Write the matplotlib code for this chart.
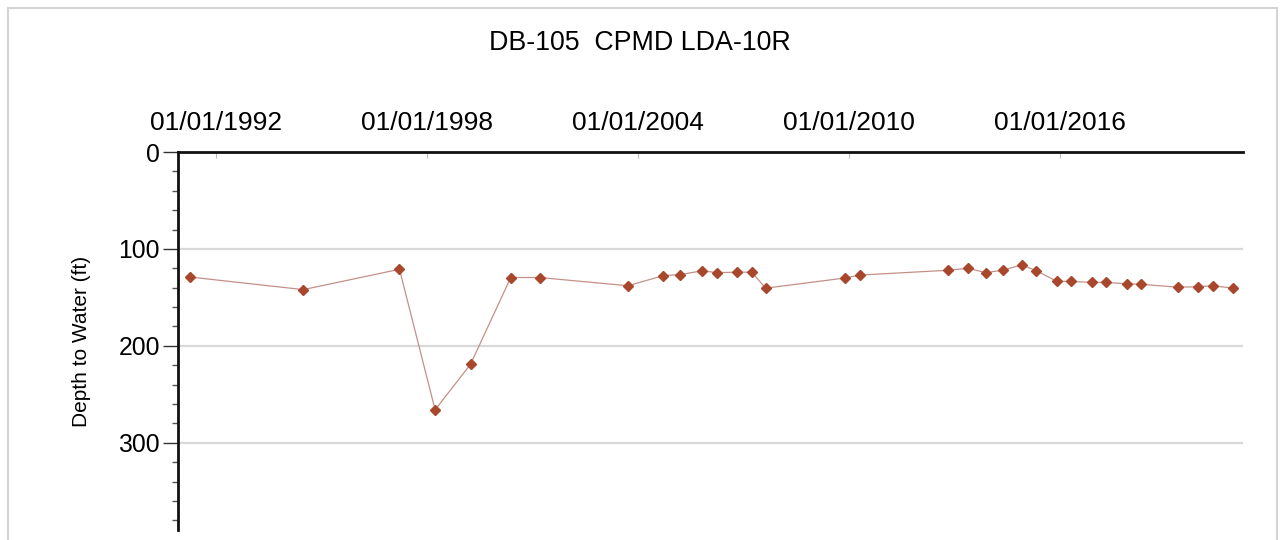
import matplotlib
matplotlib.use("Agg")
import matplotlib.pyplot as plt
import matplotlib.dates as mdates
from matplotlib.patches import Rectangle
import numpy as np
import datetime as dt

plt.rcParams['font.family'] = ['Liberation Sans', 'DejaVu Sans']

title = "DB-105  CPMD LDA-10R"
y_label = "Depth to Water (ft)"

dates = ["1991-04-05", "1994-06-25", "1997-03-20", "1998-03-25", "1999-03-28",
         "2000-05-19", "2001-03-15", "2003-09-20", "2004-09-20", "2005-03-15",
         "2005-10-30", "2006-03-28", "2006-10-30", "2007-03-28", "2007-08-18",
         "2009-11-20", "2010-04-22", "2012-10-26", "2013-05-18", "2013-11-24",
         "2014-05-15", "2014-12-01", "2015-05-01", "2015-12-01", "2016-04-27",
         "2016-11-28", "2017-04-20", "2017-11-24", "2018-04-27", "2019-05-08",
         "2019-12-05", "2020-05-08", "2020-12-08"]
depths = [129, 142, 121, 266, 219, 129.5, 129.5, 138, 127.5, 126.5,
          122.5, 124.5, 124, 124, 140.5, 130, 127, 122, 120, 124.5,
          122, 116.5, 122.5, 133.5, 133.5, 134.5, 134.5, 136, 136.5, 139.5,
          139, 138, 140.5]
tick_years = [1992, 1998, 2004, 2010, 2016]
y_ticks = [0, 100, 200, 300]

x = [dt.datetime.strptime(d, "%Y-%m-%d") for d in dates]

fig = plt.figure(figsize=(12.81, 5.40), dpi=100)
fig.patches.append(Rectangle((8/1281, -0.1), (1277-8)/1281, 1 - 8/540 + 0.1,
                             transform=fig.transFigure, fill=False,
                             edgecolor='#d4d4d4', linewidth=1.5))

ax = fig.add_axes([178/1281, 1 - 530/540, (1243-178)/1281, (530-152)/540])

ax.plot(x, depths, color='#c49088', linewidth=0.9, zorder=2)
ax.plot(x, depths, linestyle='none', marker='D', markersize=5.5,
        markerfacecolor='#a8472b', markeredgecolor='#a8472b', zorder=3)

ax.set_xlim(dt.datetime(1990, 12, 1), dt.datetime(2021, 3, 17))
ax.set_ylim(390, 0)

ax.xaxis.tick_top()
ax.set_xticks([dt.datetime(y, 1, 1) for y in tick_years])
ax.xaxis.set_major_formatter(mdates.DateFormatter("%m/%d/%Y"))
ax.tick_params(axis='x', which='major', direction='in', length=4, color='#bbbbbb',
               labelsize=19, pad=12, top=True, bottom=False)

ax.set_yticks(y_ticks)
ax.set_yticks(np.arange(20, 390, 20), minor=True)
ax.tick_params(axis='y', which='major', direction='out', length=11, width=1,
               labelsize=17.8, pad=2, color='#333333')
ax.tick_params(axis='y', which='minor', direction='out', length=4, width=1, color='#555555')

for g in y_ticks[1:]:
    ax.axhline(g, color='#d9d9d9', linewidth=1.6, zorder=1)

for s in ['right', 'bottom']:
    ax.spines[s].set_visible(False)
for s in ['left', 'top']:
    ax.spines[s].set_linewidth(2)
    ax.spines[s].set_color('#111111')

ax.set_ylabel(y_label, fontsize=15, labelpad=20)
fig.text(640/1281, 1 - 43/540, title, ha='center', va='center', fontsize=19.3)

fig.savefig("out.png", dpi=100)
